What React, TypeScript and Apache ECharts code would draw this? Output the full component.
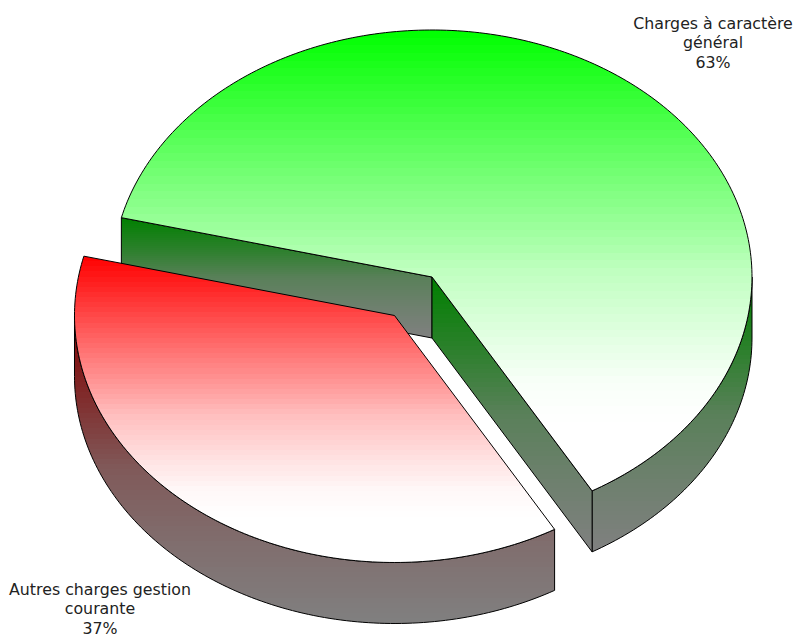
import React, { useEffect, useRef } from "react";
import * as echarts from "echarts";

const categories = ["Charges à caractère général", "Autres charges gestion courante"];
const labelLines = [
  ["Charges à caractère", "général", "63%"],
  ["Autres charges gestion", "courante", "37%"],
];
const values = [62.8, 37.2];

const WIDTH = 798;
const HEIGHT = 637;
const CX = 432;
const CY = 277;
const RX = 320;
const RY = 247;
const DEPTH = 61;
const START_ANGLE = 193.9;
const EXPLODE = [0, 0.195];
const TOP_RGB = [[0, 255, 0], [255, 0, 0]];
const WALL_RGB = [[0, 128, 0], [128, 0, 0]];
const LABEL_POS = [[713, 23], [100, 589]];
const BANDS = 60;
// Fraction along the face -> fraction of the way to the end colour.
const TOP_CURVE = [[0, 0], [0.14, 0.2], [0.26, 0.38], [0.47, 0.67], [0.52, 0.75], [0.65, 0.87], [0.76, 0.97], [0.85, 1], [1, 1]];
const WALL_CURVE = [[0, 0], [0.27, 0.35], [0.5, 0.7], [0.73, 0.85], [1, 1]];

const total = values.reduce((a, b) => a + b, 0);
const rad = (d: number) => (d * Math.PI) / 180;

function curveAt(curve: number[][], f: number) {
  for (let k = 1; k < curve.length; k++) {
    if (f <= curve[k][0]) {
      const [x0, y0] = curve[k - 1];
      const [x1, y1] = curve[k];
      return y0 + ((y1 - y0) * (f - x0)) / (x1 - x0);
    }
  }
  return 1;
}

function banded(from: number[], to: number[], curve: number[][]) {
  const stops: { offset: number; color: string }[] = [];
  for (let i = 0; i < BANDS; i++) {
    const t = curveAt(curve, (i + 0.5) / BANDS);
    const c = from.map((v, k) => Math.round(v + (to[k] - v) * t));
    const color = `rgb(${c[0]},${c[1]},${c[2]})`;
    stops.push({ offset: i / BANDS, color });
    stops.push({ offset: (i + 1) / BANDS, color });
  }
  return new echarts.graphic.LinearGradient(0, 0, 0, 1, stops);
}

function renderSlice(params: any, api: any) {
  const i = params.dataIndex;
  let before = 0;
  for (let k = 0; k < i; k++) before += values[k];
  const a0 = START_ANGLE + (before / total) * 360;
  const a1 = a0 + (api.value(0) / total) * 360;
  const mid = rad((a0 + a1) / 2);
  const cx = CX + Math.cos(mid) * RX * EXPLODE[i];
  const cy = CY + Math.sin(mid) * RY * EXPLODE[i];
  const pt = (deg: number, dz = 0) => [
    cx + RX * Math.cos(rad(deg)),
    cy + RY * Math.sin(rad(deg)) + dz,
  ];
  const arc = (from: number, to: number, dz = 0) => {
    const n = Math.max(2, Math.ceil(Math.abs(to - from) / 1));
    const out: number[][] = [];
    for (let k = 0; k <= n; k++) out.push(pt(from + ((to - from) * k) / n, dz));
    return out;
  };
  const line = { stroke: "#000", lineWidth: 1, lineJoin: "round" };
  const wall = (points: number[][]) => ({
    type: "polygon",
    shape: { points },
    style: { fill: banded(WALL_RGB[i], [128, 128, 128], WALL_CURVE), ...line },
  });
  const children: any[] = [];

  // Outer wall: the visible part is where the rim faces the viewer (sin >= 0).
  for (const base of [0, 360, -360]) {
    const from = Math.max(a0, base);
    const to = Math.min(a1, base + 180);
    if (to > from) {
      children.push(wall([...arc(from, to), ...arc(to, from, DEPTH)]));
    }
  }
  // Cut walls: shown only when facing the viewer.
  const c0 = [cx, cy];
  const c1 = [cx, cy + DEPTH];
  if (Math.cos(rad(a0)) < 0) {
    const p = pt(a0);
    children.push(wall([p, c0, c1, [p[0], p[1] + DEPTH]]));
  }
  if (Math.cos(rad(a1)) > 0) {
    const p = pt(a1);
    children.push(wall([c0, p, [p[0], p[1] + DEPTH], c1]));
  }
  // Top face.
  children.push({
    type: "polygon",
    shape: { points: [c0, ...arc(a0, a1)] },
    style: { fill: banded(TOP_RGB[i], [255, 255, 255], TOP_CURVE), ...line },
  });
  return { type: "group", children };
}

export default function App() {
  const ref = useRef<HTMLDivElement>(null);
  useEffect(() => {
    const chart = echarts.init(ref.current!, null, { renderer: "svg" });
    chart.setOption({
      animation: false,
      backgroundColor: "#fff",
      series: [
        {
          type: "custom",
          coordinateSystem: "none",
          silent: true,
          clip: false,
          data: values.map((v, i) => ({ name: categories[i], value: [v] })),
          encode: { value: 0 },
          renderItem: renderSlice,
        },
      ],
      graphic: labelLines.flatMap((lines, i) =>
        lines.map((text, k) => ({
          type: "text",
          x: LABEL_POS[i][0],
          y: LABEL_POS[i][1] + k * 19.5,
          style: {
            text,
            fill: "#222",
            font: '15.8px "DejaVu Sans"',
            textAlign: "center",
            textVerticalAlign: "middle",
          },
        }))
      ),
    });
    return () => chart.dispose();
  }, []);
  return (
    <div
      ref={ref}
      style={{ position: "absolute", left: 0, top: 0, width: WIDTH, height: HEIGHT }}
    />
  );
}
